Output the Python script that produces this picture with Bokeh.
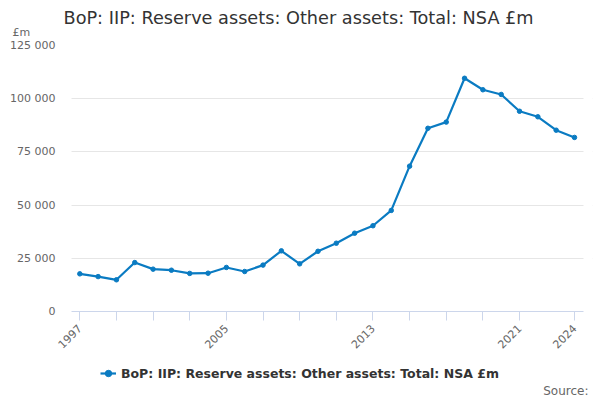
import math
from bokeh.plotting import figure
from bokeh.models import (FixedTicker, Legend, LegendItem, Range1d, Title, Label, BoxAnnotation)
from bokeh.embed import file_html
from bokeh.resources import INLINE

years = list(range(1997, 2025))
values = [17700, 16400, 14900, 23000, 19900, 19400, 17900, 18000, 20700, 18800,
          21800, 28500, 22400, 28300, 32100, 36800, 40300, 47500, 68300, 86100,
          89000, 109600, 104200, 102000, 94100, 91500, 85200, 81800]
series_name = "BoP: IIP: Reserve assets: Other assets: Total: NSA £m"
title_text = "BoP: IIP: Reserve assets: Other assets: Total: NSA £m"
unit_text = "£m"
source_text = "Source:"
y_ticks = [0, 25000, 50000, 75000, 100000, 125000]
y_tick_labels = ["0", "25 000", "50 000", "75 000", "100 000", "125 000"]
x_ticks = [1997, 1999, 2001, 2003, 2005, 2007, 2009, 2011, 2013, 2015, 2017, 2019, 2021, 2024]
x_labelled = [1997, 2005, 2013, 2021, 2024]

LINE = "#0a7bc2"
FONT = "DejaVu Sans"

# layout (pixels): frame x 54..592, plot area x 71..583; frame y 45..400, zero at 311
PX_PER_YEAR = 18.32
X0 = 1997 - (79.3 - 54) / PX_PER_YEAR
X1 = 2024 + (592 - 574) / PX_PER_YEAR
XA = 1997 - (79.3 - 71) / PX_PER_YEAR
XB = 2024 + (583 - 574) / PX_PER_YEAR
Y_TOP = 125000
Y_BOTTOM = Y_TOP - Y_TOP * 355 / 266

p = figure(width=600, height=400, output_backend="svg", toolbar_location=None,
           x_range=Range1d(X0, X1), y_range=Range1d(Y_BOTTOM, Y_TOP),
           min_border_left=54, min_border_right=8, min_border_top=45, min_border_bottom=0)
p.outline_line_color = None
p.background_fill_color = "white"
p.border_fill_color = "white"

p.xgrid.grid_line_color = None
p.ygrid.ticker = FixedTicker(ticks=y_ticks[1:])
p.ygrid.grid_line_color = "#e6e6e6"

# white masks so that grid lines span only the plot area
p.add_layout(BoxAnnotation(left=X0, right=XA, bottom=Y_BOTTOM, top=Y_TOP, fill_color="white",
                           fill_alpha=1, line_color=None, level="underlay"))
p.add_layout(BoxAnnotation(left=XB, right=X1, bottom=Y_BOTTOM, top=Y_TOP, fill_color="white",
                           fill_alpha=1, line_color=None, level="underlay"))

r_line = p.line(years, values, line_color=LINE, line_width=2.2)
r_pts = p.scatter(years, values, size=4.5, fill_color=LINE, line_color=LINE)

yax = p.yaxis[0]
yax.ticker = FixedTicker(ticks=y_ticks)
yax.major_label_overrides = {t: l for t, l in zip(y_ticks, y_tick_labels)}
yax.axis_line_color = None
yax.major_tick_line_color = None
yax.minor_tick_line_color = None
yax.major_label_text_font = FONT
yax.major_label_text_font_size = "11px"
yax.major_label_text_color = "#666666"
yax.major_label_standoff = -7

xax = p.xaxis[0]
xax.fixed_location = 0
xax.bounds = (XA, XB)
xax.ticker = FixedTicker(ticks=x_ticks)
xax.major_label_overrides = {t: (str(t) if t in x_labelled else "") for t in x_ticks}
xax.axis_line_color = "#ccd6eb"
xax.major_tick_line_color = "#ccd6eb"
xax.major_tick_out = 9
xax.major_tick_in = 0
xax.minor_tick_line_color = None
xax.major_label_orientation = math.pi / 4
xax.major_label_text_font = FONT
xax.major_label_text_font_size = "11px"
xax.major_label_text_color = "#666666"
xax.major_label_standoff = 6

p.title.text = title_text
p.title.text_font = FONT
p.title.text_font_size = "17.7px"
p.title.text_font_style = "normal"
p.title.text_color = "#333333"
p.title.align = "left"
p.title.offset = 9
p.title.standoff = -22

unit = Title(text=unit_text, text_font=FONT, text_font_size="11px",
             text_font_style="normal", text_color="#666666", align="left",
             offset=-42, standoff=14)
p.add_layout(unit, "above")

legend = Legend(items=[LegendItem(label=series_name, renderers=[r_line, r_pts])],
                location=(46, 17), orientation="horizontal",
                label_text_font=FONT, label_text_font_size="12.5px",
                label_text_font_style="bold", label_text_color="#333333",
                glyph_width=16, glyph_height=20, label_standoff=5,
                padding=0, margin=0, border_line_color=None,
                background_fill_alpha=0)
p.add_layout(legend, "center")

p.add_layout(Label(x=534, y=10, x_units="screen", y_units="screen", text=source_text,
                   text_font=FONT, text_font_size="12px", text_color="#666666",
                   text_align="right", text_baseline="middle"))

open("out.html", "w").write(file_html(p, INLINE))
